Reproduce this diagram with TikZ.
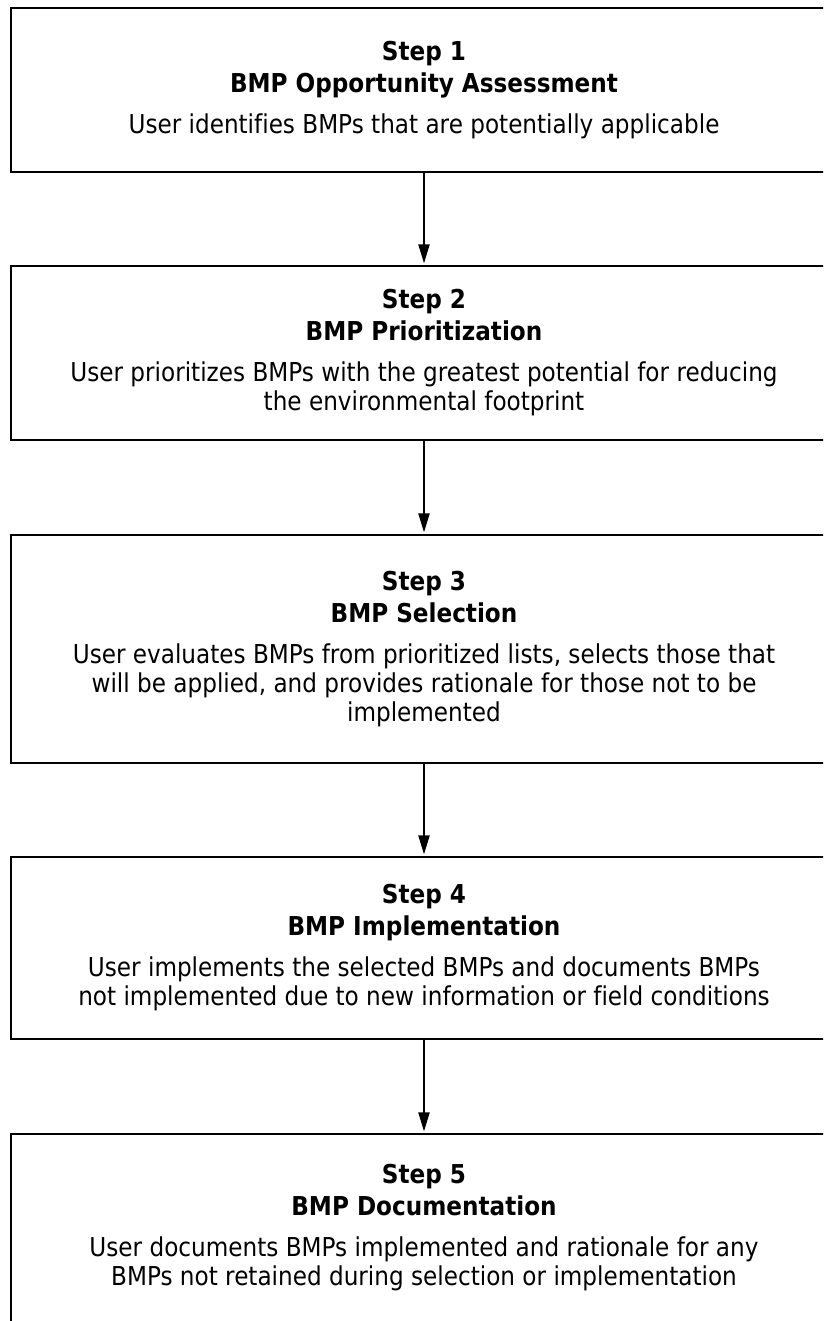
\documentclass[tikz,border=0pt]{standalone}
\usepackage{fontspec}
\setmainfont{DejaVu Sans}[FakeStretch=0.89,Ligatures=NoCommon]
\usetikzlibrary{arrows.meta}
\begin{document}
\begin{tikzpicture}[x=1pt,y=-1pt,
  stepbox/.style={draw=black,line width=2.6pt,fill=white,minimum width=826pt,inner sep=0pt,
    align=center,font=\fontsize{26}{29}\selectfont,text=black},
  flow/.style={line width=2pt,-{Triangle[length=19pt,width=11pt]},shorten >=1.3pt}]
\useasboundingbox (0,0) rectangle (823,1321);
\clip (0,0) rectangle (823,1321);
\fill[white] (0,0) rectangle (823,1321);
\node[stepbox,minimum height=164pt] (b1) at (424,90)
  {\textbf{Step 1}\\[3pt]\textbf{BMP Opportunity Assessment}\\[12pt]User identifies BMPs that are potentially applicable};
\node[stepbox,minimum height=174pt] (b2) at (424,353)
  {\textbf{Step 2}\\[3pt]\textbf{BMP Prioritization}\\[12pt]User prioritizes BMPs with the greatest potential for reducing\\the environmental footprint};
\node[stepbox,minimum height=228pt] (b3) at (424,649)
  {\textbf{Step 3}\\[3pt]\textbf{BMP Selection}\\[12pt]User evaluates BMPs from prioritized lists, selects those that\\will be applied, and provides rationale for those not to be\\implemented};
\node[stepbox,minimum height=182pt] (b4) at (424,948)
  {\textbf{Step 4}\\[3pt]\textbf{BMP Implementation}\\[12pt]User implements the selected BMPs and documents BMPs\\not implemented due to new information or field conditions};
\node[stepbox,minimum height=188pt] (b5) at (424,1228)
  {\textbf{Step 5}\\[3pt]\textbf{BMP Documentation}\\[12pt]User documents BMPs implemented and rationale for any\\BMPs not retained during selection or implementation};
\draw[flow] (b1.south) -- (b2.north);
\draw[flow] (b2.south) -- (b3.north);
\draw[flow] (b3.south) -- (b4.north);
\draw[flow] (b4.south) -- (b5.north);
\end{tikzpicture}
\end{document}
